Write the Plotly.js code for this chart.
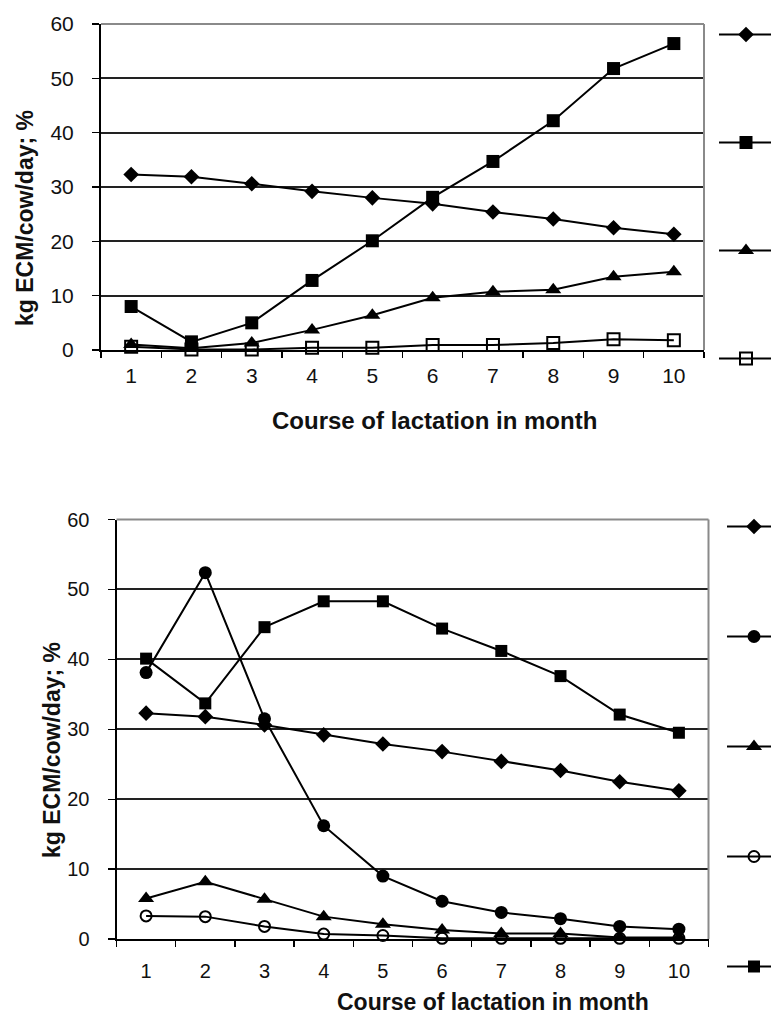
<!DOCTYPE html>
<html>
<head>
<meta charset="utf-8">
<script src="https://cdn.plot.ly/plotly-3.0.1.min.js"></script>
<style>html,body{margin:0;padding:0;background:#fff;}#chart{width:771px;height:1018px;}</style>
</head>
<body>
<div id="chart"></div>
<script>
// ---- data ----
const months = ['1','2','3','4','5','6','7','8','9','10'];

// top chart
const ecmTop      = [32.3, 31.9, 30.6, 29.2, 28.0, 26.9, 25.4, 24.1, 22.5, 21.3];
const squareTop   = [8.0, 1.5, 5.0, 12.8, 20.1, 28.1, 34.7, 42.2, 51.8, 56.4];
const triangleTop = [1.0, 0.3, 1.3, 3.7, 6.4, 9.6, 10.7, 11.1, 13.5, 14.4];
const openSqTop   = [0.6, 0.1, 0.1, 0.4, 0.4, 0.9, 0.9, 1.3, 2.0, 1.8];

// bottom chart
const ecmBottom      = [32.3, 31.8, 30.6, 29.2, 27.9, 26.8, 25.4, 24.1, 22.5, 21.2];
const circleBottom   = [38.1, 52.4, 31.5, 16.2, 9.0, 5.4, 3.8, 2.9, 1.8, 1.4];
const triangleBottom = [5.8, 8.2, 5.7, 3.2, 2.1, 1.3, 0.8, 0.8, 0.2, 0.2];
const openCircBottom = [3.3, 3.2, 1.8, 0.7, 0.5, 0.1, 0.1, 0.1, 0.1, 0.1];
const squareBottom   = [40.1, 33.7, 44.6, 48.3, 48.3, 44.4, 41.2, 37.6, 32.1, 29.5];

const yTicks = [0, 10, 20, 30, 40, 50, 60];
const xTitle = 'Course of lactation in month';
const yTitle = 'kg ECM/cow/day; %';

// ---- styling ----
const FONT = 'Liberation Sans, Arial, Helvetica, sans-serif';
const W = 771, H = 1018;
const px = v => v / W;
const py = v => 1 - v / H;

function tr(y, sym, size, xa, ya, leg, group, open) {
  return {
    x: months, y: y, type: 'scatter', mode: 'lines+markers',
    xaxis: xa, yaxis: ya, legend: leg, legendgroup: group, name: '',
    line: {color: '#000', width: 2},
    marker: {symbol: sym, size: size, color: '#000',
             line: {color: '#000', width: open ? 2 : 0}},
    cliponaxis: false, hoverinfo: 'skip'
  };
}

const data = [
  tr(ecmTop, 'diamond', 12, 'x', 'y', 'legend', 'a1'),
  tr(squareTop, 'square', 13, 'x', 'y', 'legend', 'a2'),
  tr(triangleTop, 'triangle-up', 14, 'x', 'y', 'legend', 'a3'),
  tr(openSqTop, 'square-open', 12, 'x', 'y', 'legend', 'a4', true),
  tr(ecmBottom, 'diamond', 12, 'x2', 'y2', 'legend2', 'b1'),
  tr(circleBottom, 'circle', 13, 'x2', 'y2', 'legend2', 'b2'),
  tr(triangleBottom, 'triangle-up', 14, 'x2', 'y2', 'legend2', 'b3'),
  tr(openCircBottom, 'circle-open', 11, 'x2', 'y2', 'legend2', 'b4', true),
  tr(squareBottom, 'square', 12, 'x2', 'y2', 'legend2', 'b5')
];

function xax(domain, anchor, size, standoff) {
  return {
    type: 'category', domain: domain, anchor: anchor, range: [-0.5, 9.5],
    tickson: 'boundaries', ticks: 'outside', ticklen: 6, tickwidth: 1.3, tickcolor: '#000',
    showline: true, linecolor: '#000', linewidth: 2, showgrid: false, zeroline: false,
    tickfont: {family: FONT, size: size, color: '#111'}, ticklabelstandoff: standoff
  };
}
function yax(domain, anchor, size) {
  return {
    domain: domain, anchor: anchor, range: [0, 60], tickvals: yTicks,
    ticks: 'outside', ticklen: 7, tickwidth: 1.3, tickcolor: '#000',
    showline: true, linecolor: '#000', linewidth: 2,
    showgrid: true, gridcolor: '#222', gridwidth: 2, zeroline: false,
    tickfont: {family: FONT, size: size, color: '#111'}, ticklabelstandoff: 14
  };
}

const layout = {
  width: W, height: H,
  margin: {l: 0, r: 0, t: 0, b: 0, autoexpand: false},
  paper_bgcolor: '#fff', plot_bgcolor: '#fff',
  xaxis: xax([px(101), px(704)], 'y', 21, 6),
  yaxis: yax([py(350), py(24)], 'x', 21),
  xaxis2: xax([px(116.5), px(708.5)], 'y2', 20, 13),
  yaxis2: yax([py(939), py(519.5)], 'x2', 20),
  showlegend: true,
  legend: {x: px(714), xanchor: 'left', y: py(20), yanchor: 'top', itemwidth: 54,
           font: {size: 10}, tracegroupgap: 89, itemclick: false,
           bgcolor: 'rgba(0,0,0,0)', borderwidth: 0},
  legend2: {x: px(722), xanchor: 'left', y: py(512), yanchor: 'top', itemwidth: 54,
            font: {size: 10}, tracegroupgap: 91, itemclick: false,
            bgcolor: 'rgba(0,0,0,0)', borderwidth: 0},
  shapes: [
    {type: 'line', xref: 'x domain', yref: 'y domain', x0: 0, x1: 1, y0: 1, y1: 1, line: {color: '#8a8a8a', width: 2}, layer: 'above'},
    {type: 'line', xref: 'x domain', yref: 'y domain', x0: 1, x1: 1, y0: 0, y1: 1, line: {color: '#8a8a8a', width: 2}, layer: 'above'},
    {type: 'line', xref: 'x2 domain', yref: 'y2 domain', x0: 0, x1: 1, y0: 1, y1: 1, line: {color: '#8a8a8a', width: 2}, layer: 'above'},
    {type: 'line', xref: 'x2 domain', yref: 'y2 domain', x0: 1, x1: 1, y0: 0, y1: 1, line: {color: '#8a8a8a', width: 2}, layer: 'above'}
  ],
  annotations: [
    {text: xTitle, xref: 'paper', yref: 'paper', x: px(434), y: py(421), xanchor: 'center', yanchor: 'middle', showarrow: false,
     font: {family: FONT, size: 24, color: '#111', weight: 'bold'}},
    {text: yTitle, xref: 'paper', yref: 'paper', x: px(25), y: py(218), xanchor: 'center', yanchor: 'middle', showarrow: false, textangle: -90,
     font: {family: FONT, size: 23, color: '#111', weight: 'bold'}},
    {text: xTitle, xref: 'paper', yref: 'paper', x: px(493), y: py(1002), xanchor: 'center', yanchor: 'middle', showarrow: false,
     font: {family: FONT, size: 23, color: '#111', weight: 'bold'}},
    {text: yTitle, xref: 'paper', yref: 'paper', x: px(52), y: py(750), xanchor: 'center', yanchor: 'middle', showarrow: false, textangle: -90,
     font: {family: FONT, size: 23, color: '#111', weight: 'bold'}}
  ]
};

Plotly.newPlot('chart', data, layout, {staticPlot: true, displayModeBar: false});
</script>
</body>
</html>
